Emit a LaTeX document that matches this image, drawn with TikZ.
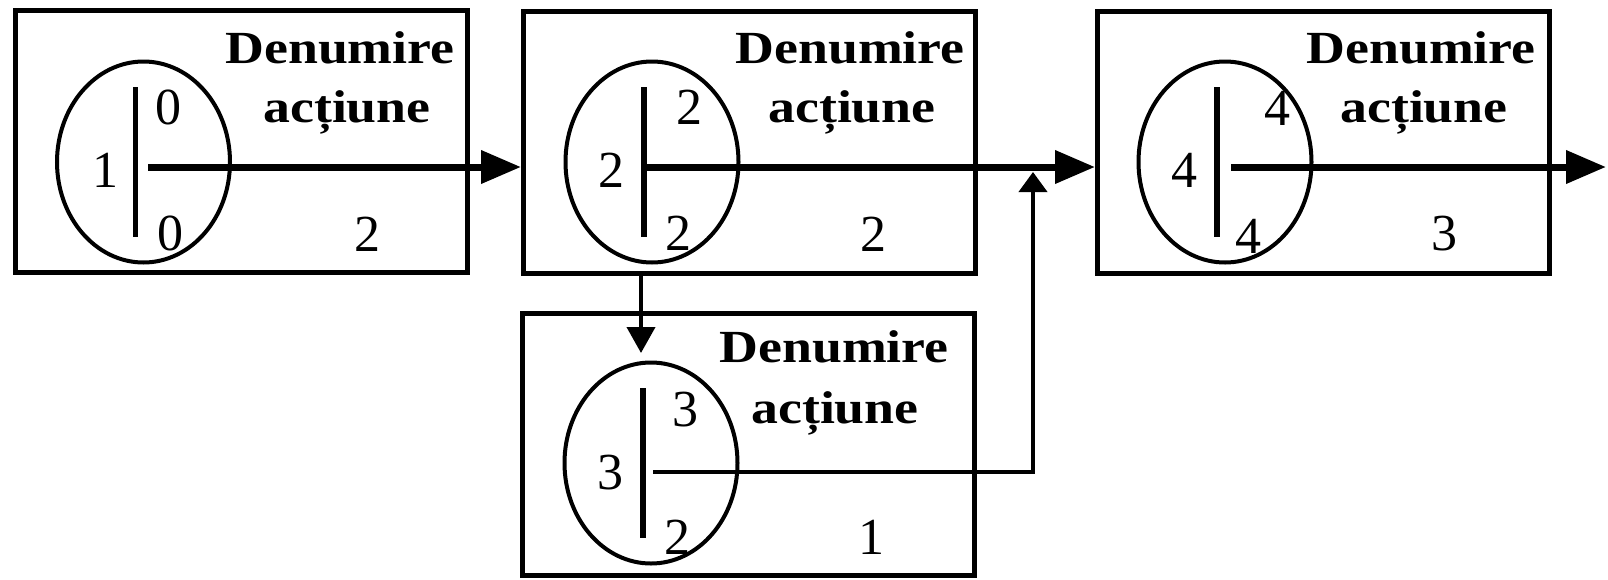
\documentclass[tikz,border=0pt]{standalone}
\usepackage{fontspec}
\usepackage{graphicx}
\setmainfont{Liberation Serif}
\usetikzlibrary{shapes.geometric,arrows.meta}
\newcommand{\wtxt}[1]{\scalebox{1.17}[1]{#1}}
\begin{document}
\begin{tikzpicture}[x=0.5pt,y=-0.5pt,
  box/.style={draw,line width=2.5pt,minimum width=226pt,minimum height=131pt,inner sep=0pt},
  ev/.style={draw,ellipse,line width=2pt,minimum width=86.5pt,minimum height=100.5pt,inner sep=0pt},
  bar/.style={line width=2.6pt},
  num/.style={font=\fontsize{26}{30}\selectfont,inner sep=0pt},
  ttl/.style={font=\fontsize{23}{28}\selectfont\bfseries,inner sep=0pt,anchor=base},
  bigarr/.style={line width=3.5pt,-{Triangle[length=20pt,width=16pt]}},
  smallarr/.style={line width=2pt,-{Triangle[length=13pt,width=14pt]}},
  plainline/.style={line width=2pt}
]
\useasboundingbox (0,0) rectangle (1608,579);
\fill[white] (0,0) rectangle (1608,579);

% boxes
\node[box] (b1) at (241.5,141.5) {};
\node[box] (b2) at (749.5,142.5) {};
\node[box] (b4) at (1323.5,142.5) {};
\node[box] (b3) at (748.5,444) {};

% ellipses
\node[ev] (e1) at (143.5,162) {};
\node[ev] (e2) at (652,162) {};
\node[ev] (e4) at (1225,162) {};
\node[ev] (e3) at (651,463) {};

% bars
\draw[bar] (135.5,87) -- (135.5,237);
\draw[bar] (644,87) -- (644,237);
\draw[bar] (1217,87) -- (1217,237);
\draw[bar] (643,388) -- (643,538);

% titles
\node[ttl] (t1a) at (340,63) {\wtxt{Denumire}};
\node[ttl] (t1b) at (347,122) {\wtxt{acțiune}};
\node[ttl] (t2a) at (850,63) {\wtxt{Denumire}};
\node[ttl] (t2b) at (852,122) {\wtxt{acțiune}};
\node[ttl] (t4a) at (1421,63) {\wtxt{Denumire}};
\node[ttl] (t4b) at (1424,122) {\wtxt{acțiune}};
\node[ttl] (t3a) at (834,362) {\wtxt{Denumire}};
\node[ttl] (t3b) at (835,423) {\wtxt{acțiune}};

% ellipse digits
\node[num] (n1l) at (105,170) {1};
\node[num] (n1t) at (168,107) {0};
\node[num] (n1b) at (170,233) {0};
\node[num] (n2l) at (611,170) {2};
\node[num] (n2t) at (689,107) {2};
\node[num] (n2b) at (678,233) {2};
\node[num] (n4l) at (1184,170) {4};
\node[num] (n4t) at (1277,108) {4};
\node[num] (n4b) at (1248,236) {4};
\node[num] (n3l) at (610,473) {3};
\node[num] (n3t) at (685,410) {3};
\node[num] (n3b) at (677,537) {2};

% durations
\node[num] (d1) at (367,234) {2};
\node[num] (d2) at (873,234) {2};
\node[num] (d4) at (1444,234) {3};
\node[num] (d3) at (871,537) {1};

% connectors
\coordinate (a1) at (148,167);
\coordinate (a2) at (644,167);
\coordinate (a4) at (1231,167);
\coordinate (z4) at (1606,167);
\coordinate (a3) at (653,472);
\coordinate (u1) at (1033,172);
\coordinate (dn) at (641,353);

\draw[bigarr] (a1) -- (b2.west |- a1);
\draw[bigarr] (a2) -- (b4.west |- a2);
\draw[bigarr] (a4) -- (z4);
\draw[smallarr] (b2.south -| dn) -- (dn);
\draw[plainline,-{Triangle[length=10pt,width=14pt]}] (a3) -| (u1);
\end{tikzpicture}
\end{document}
